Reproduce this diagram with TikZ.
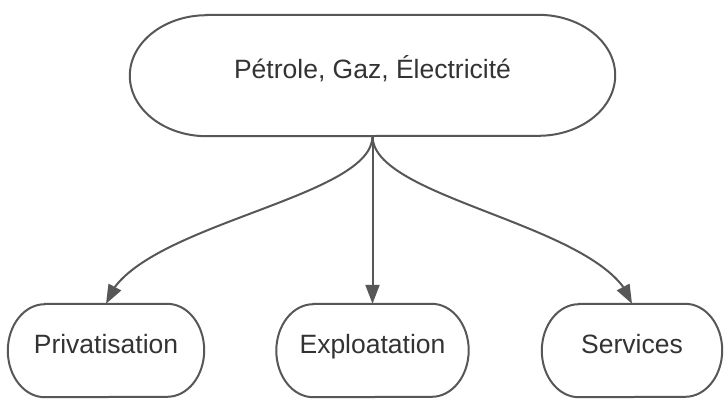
\documentclass[tikz,border=0pt]{standalone}
\usepackage{fontspec}
\setmainfont{Liberation Sans}
\usetikzlibrary{arrows.meta,bending}
\definecolor{linegray}{HTML}{575757}
\definecolor{textgray}{HTML}{333333}
\newcommand\ovaloutline[3]{\draw[edge] ([xshift=#2]#1.north west) -- ([xshift=-#2]#1.north east) arc[start angle=90,end angle=-90,x radius=#2,y radius=#3] -- ([xshift=#2]#1.south west) arc[start angle=270,end angle=90,x radius=#2,y radius=#3] -- cycle;}
\begin{document}
\begin{tikzpicture}[x=1pt,y=-1pt,
  box/.style={rectangle, inner sep=0pt, text=textgray, font=\fontsize{26.5}{31}\selectfont, text height=0.75em, text depth=0.25em},
  edge/.style={draw=linegray, line width=2pt},
  link/.style={edge, -{Triangle[length=19pt,width=14pt,flex]}}]
\useasboundingbox[fill=white] (0,0) rectangle (727,399);
\node[box, minimum width=485pt, minimum height=121pt] (src) at (372.5,75.5) {Pétrole, Gaz, Électricité};
\node[box, minimum width=196pt, minimum height=93pt] (priv) at (106,350.5) {Privatisation};
\node[box, minimum width=192pt, minimum height=93pt] (expl) at (372.5,350.5) {Exploatation};
\node[box, minimum width=180pt, minimum height=93pt] (serv) at (632,350.5) {Services};
\ovaloutline{src}{77pt}{60.5pt}
\ovaloutline{priv}{37pt}{46.5pt}
\ovaloutline{expl}{37pt}{46.5pt}
\ovaloutline{serv}{37pt}{46.5pt}
\draw[link] (src.south) .. controls (372.5,200) and (130,225) .. (priv.north);
\draw[link] (src.south) -- (expl.north);
\draw[link] (src.south) .. controls (372.5,200) and (608,225) .. (serv.north);
\end{tikzpicture}
\end{document}
